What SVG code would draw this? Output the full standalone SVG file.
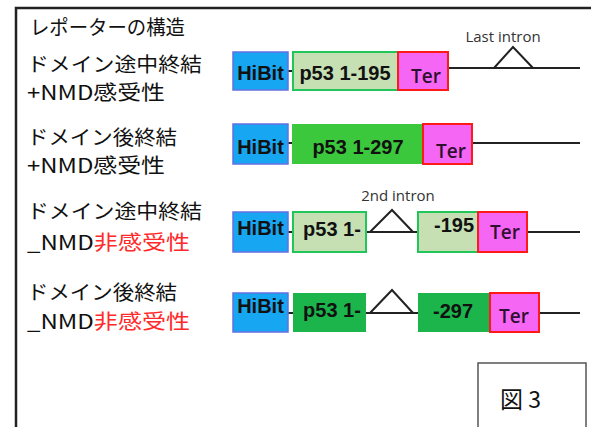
<svg xmlns="http://www.w3.org/2000/svg" width="591" height="427" viewBox="0 0 591 427">
<style>
.lbl{font-family:"Noto Sans CJK JP","Noto Sans",sans-serif;font-size:20px;fill:#111}
.red{fill:#ff2a2a}
.bx{font-family:"Liberation Sans",Arial,sans-serif;font-size:20px;font-weight:bold;fill:#111;text-anchor:middle}
.ter-t{font-family:"Open Sans","Liberation Sans",sans-serif;font-size:19px;font-weight:600;fill:#301030;text-anchor:middle}
.sm{font-family:"Open Sans","Liberation Sans",sans-serif;font-size:15px;fill:#333;text-anchor:middle}
.hibit{fill:#17a6f2;stroke:#6470e0;stroke-width:1.5}
.light{fill:#c6dfb3;stroke:#22c55a;stroke-width:2}
.bright{fill:#3cc83c}
.dark{fill:#1bb54c}
.ter{fill:#f566f5;stroke:#ff1a1a;stroke-width:2}
.ln{stroke:#222;stroke-width:2;fill:none}
</style>
<rect width="591" height="427" fill="#fff"/>
<path d="M16 427V8H591" fill="none" stroke="#222" stroke-width="2.5"/>
<g id="title"><text class="lbl" x="30" y="35" font-size="16" textLength="155" lengthAdjust="spacingAndGlyphs">レポーターの構造</text></g>
<g id="labels">
<text class="lbl" x="27" y="72" textLength="175" lengthAdjust="spacingAndGlyphs">ドメイン途中終結</text>
<text class="lbl" x="27" y="100" textLength="138" lengthAdjust="spacingAndGlyphs">+NMD感受性</text>
<text class="lbl" x="27" y="145" textLength="150" lengthAdjust="spacingAndGlyphs">ドメイン後終結</text>
<text class="lbl" x="27" y="173" textLength="138" lengthAdjust="spacingAndGlyphs">+NMD感受性</text>
<text class="lbl" x="27" y="219" textLength="175" lengthAdjust="spacingAndGlyphs">ドメイン途中終結</text>
<text class="lbl" x="27" y="250" textLength="163" lengthAdjust="spacingAndGlyphs">_NMD<tspan class="red">非感受性</tspan></text>
<text class="lbl" x="27" y="300" textLength="150" lengthAdjust="spacingAndGlyphs">ドメイン後終結</text>
<text class="lbl" x="27" y="329" textLength="163" lengthAdjust="spacingAndGlyphs">_NMD<tspan class="red">非感受性</tspan></text>
</g>
<g id="connectors">
<line class="ln" x1="288" y1="71" x2="293" y2="71"/>
<line class="ln" x1="448" y1="68" x2="580" y2="68"/>
<polyline class="ln" points="494,68 513,47 533,68" stroke-width="1.5"/>
<line class="ln" x1="288" y1="143" x2="292" y2="143"/>
<line class="ln" x1="472" y1="143" x2="580" y2="143"/>
<line class="ln" x1="288" y1="232" x2="293" y2="232"/>
<line class="ln" x1="366" y1="232" x2="418" y2="232"/>
<polyline class="ln" points="370,232 392,210 413,232" stroke-width="1.5"/>
<line class="ln" x1="527" y1="232" x2="580" y2="232"/>
<line class="ln" x1="288" y1="313" x2="293" y2="313"/>
<line class="ln" x1="366" y1="313" x2="418" y2="313"/>
<polyline class="ln" points="370,313 392,290 413,313" stroke-width="1.5"/>
<line class="ln" x1="539" y1="313" x2="580" y2="313"/>
</g>
<g id="intron1"><text class="sm" x="503" y="42">Last intron</text></g>
<g id="intron2"><text class="sm" x="398" y="201">2nd intron</text></g>
<g id="row1">
<rect class="hibit" x="233" y="52" width="55" height="38"/><text class="bx" x="260.5" y="80">HiBit</text>
<rect class="light" x="293" y="52" width="105" height="38"/><text class="bx" x="345" y="80">p53 1-195</text>
<rect class="ter" x="398" y="52" width="50" height="38"/><text class="ter-t" x="426" y="83">Ter</text>
</g>
<g id="row2">
<rect class="hibit" x="233" y="124" width="55" height="40"/><text class="bx" x="260.5" y="154">HiBit</text>
<rect class="bright" x="292" y="124" width="131" height="40"/><text class="bx" x="358" y="154">p53 1-297</text>
<rect class="ter" x="423" y="124" width="49" height="40"/><text class="ter-t" x="451" y="158">Ter</text>
</g>
<g id="row3">
<rect class="hibit" x="233" y="212" width="55" height="40"/><text class="bx" x="260.5" y="235">HiBit</text>
<rect class="light" x="293" y="212" width="73" height="40"/><text class="bx" x="332" y="236">p53 1-</text>
<rect class="light" x="418" y="212" width="60" height="40"/><text class="bx" x="454" y="232">-195</text>
<rect class="ter" x="478" y="212" width="49" height="40"/><text class="ter-t" x="505" y="239">Ter</text>
</g>
<g id="row4">
<rect class="hibit" x="233" y="293" width="55" height="39"/><text class="bx" x="260.5" y="313">HiBit</text>
<rect class="dark" x="293" y="293" width="73" height="39"/><text class="bx" x="332" y="317">p53 1-</text>
<rect class="dark" x="418" y="293" width="72" height="39"/><text class="bx" x="453" y="318">-297</text>
<rect class="ter" x="490" y="293" width="49" height="39"/><text class="ter-t" x="514" y="323">Ter</text>
</g>
<g id="fig">
<path d="M478 427V363H586V427" fill="none" stroke="#555" stroke-width="1.5"/>
<text x="500" y="408" font-family="'Noto Sans CJK JP',sans-serif" font-size="23" fill="#111">図 3</text>
</g>
</svg>
